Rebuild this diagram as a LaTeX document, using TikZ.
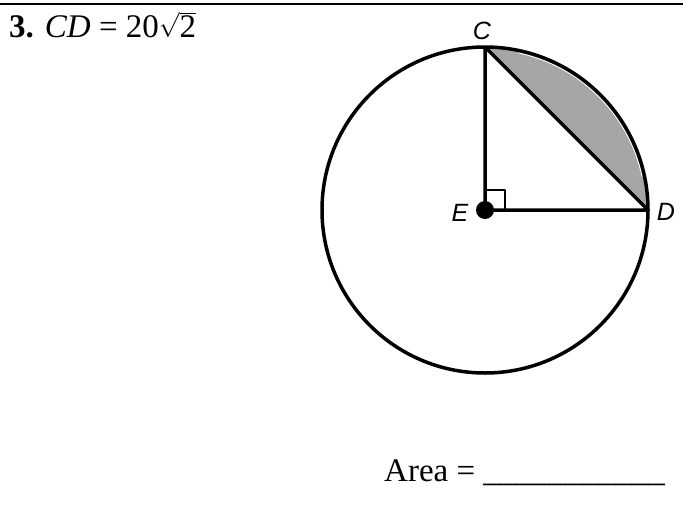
\documentclass[tikz,border=0pt]{standalone}
\usepackage{fontspec}
\usetikzlibrary{calc}
\setmainfont{Liberation Serif}
\newfontfamily\lblfont{Liberation Sans}
\definecolor{segfill}{RGB}{166,166,166}
\begin{document}
\begin{tikzpicture}[x=1pt,y=-1pt, line join=round,
  geom/.style={line width=3.5pt},
  ptlabel/.style={font=\lblfont\itshape\fontsize{25}{30}\selectfont, inner sep=0pt},
  bigtext/.style={font=\fontsize{33}{40}\selectfont, inner sep=0pt, anchor=base west}]
\useasboundingbox (0,0) rectangle (683,522);
\draw[line width=2.2pt] (0,4) -- (683,4);
\coordinate (E) at (485,210);
\coordinate (C) at (485,47);
\coordinate (D) at (648,210);
\fill[segfill] (C) arc[start angle=-90,end angle=0,radius=163] -- cycle;
\draw[white, line width=0.9pt] ($(E)+(-78:160.6)$) arc[start angle=-78, end angle=-12, radius=160.6];
\draw[geom] (E) circle[radius=163];
\draw[geom] (C) -- (E) -- (D) -- (C);
\draw[line width=2.2pt] ($(E)+(0,-20)$) -- ++(20,0) -- ++(0,20);
\fill (E) circle[radius=9];
\node[ptlabel] (lC) at (482,30.5) {C};
\node[ptlabel] (lE) at (460,213) {E};
\node[ptlabel] (lD) at (666,212) {D};
\node[bigtext] (title) at (9,37) {\textbf{3.} \textit{CD} = 20$\sqrt{\mbox{2}}$};
\node[bigtext] (area) at (384,481) {Area = \_\_\_\_\_\_\_\_\_\_\_};
\end{tikzpicture}
\end{document}
